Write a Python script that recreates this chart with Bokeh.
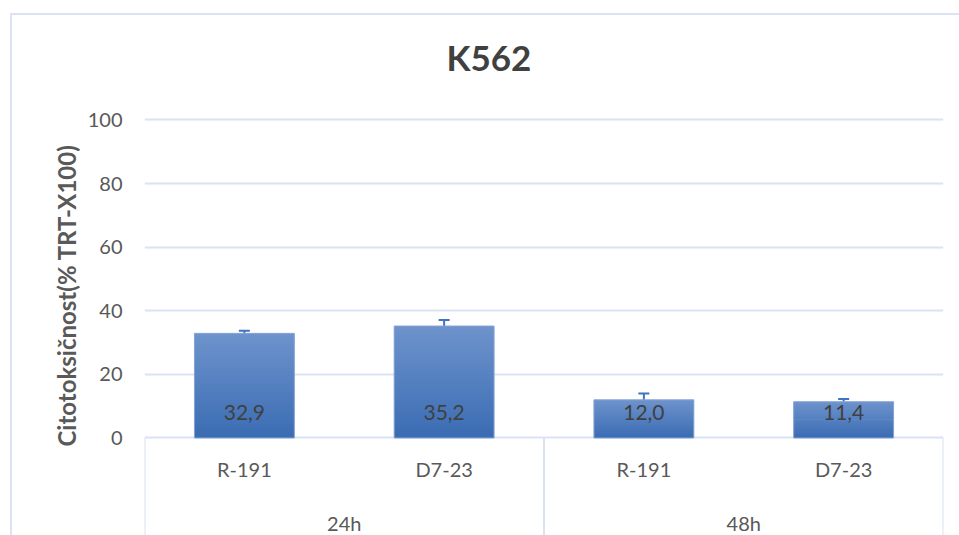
from bokeh.plotting import figure
from bokeh.models import (FactorRange, Range1d, FixedTicker, CategoricalAxis,
                          ColumnDataSource, Whisker, TeeHead)
from bokeh.core.properties import value
from bokeh.embed import file_html
from bokeh.resources import INLINE

# ---------------- data ----------------
title_text = "K562"
y_label = "Citotoksičnost(% TRT-X100)"
groups = ["24h", "48h"]
samples = ["R-191", "D7-23"]
values = [32.9, 35.2, 12.0, 11.4]
errors = [0.8, 1.9, 2.0, 0.9]
y_ticks = [0, 20, 40, 60, 80, 100]

# ---------------- style ----------------
FONT = "Lato"
GRID = "#dae3f3"
TEXT = "#595959"
DARK = "#404040"
ERR = "#3f73c4"
TOP_COL = (0x6e, 0x93, 0xcc)
BOT_COL = (0x3a, 0x6c, 0xb3)

factors = [(g, s) for g in groups for s in samples]

x_range = FactorRange(factors=factors, range_padding=0, factor_padding=0,
                      group_padding=0, subgroup_padding=0)
p = figure(x_range=x_range, y_range=Range1d(-30.66, 120.28),
           width=947, height=520, output_backend="svg", toolbar_location=None,
           min_border_left=132, min_border_right=16, min_border_top=40,
           min_border_bottom=0)
p.styles = {"margin-left": "12px", "margin-top": "15px",
            "outline": f"2px solid {GRID}"}
p.outline_line_color = None
p.background_fill_color = "white"
p.border_fill_color = "white"

# title
p.title.text = title_text
p.title.text_font = FONT
p.title.text_font_size = "35px"
p.title.text_font_style = "bold"
p.title.text_color = DARK
p.title.align = "left"
p.title.offset = 302
p.title.standoff = -45

# gradient bars (overlapping slices computed from the values)
N = 30
xs, bottoms, tops, cols = [], [], [], []
for f, v in zip(factors, values):
    for k in range(N):
        t = (k + 0.5) / N
        c = tuple(int(round(BOT_COL[j] + (TOP_COL[j] - BOT_COL[j]) * t)) for j in range(3))
        xs.append(f)
        bottoms.append(v * k / N)
        tops.append(min(v, v * (k + 1.6) / N))
        cols.append("#%02x%02x%02x" % c)
p.vbar(x=xs, bottom=bottoms, top=tops, width=0.5, fill_color=cols, line_color=None)
p.vbar(x=factors, top=values, width=0.5, fill_color=None, line_color="#86a3d6",
       line_width=1)

# error bars (upper part)
err_src = ColumnDataSource(dict(x=factors, lower=values,
                                upper=[v + e for v, e in zip(values, errors)]))
p.add_layout(Whisker(source=err_src, base="x", lower="lower", upper="upper",
                     dimension="height", line_color=ERR, line_width=2,
                     upper_head=TeeHead(size=11, line_color=ERR, line_width=2),
                     lower_head=None))

# data labels
labels = [f"{v:.1f}".replace(".", ",") for v in values]
p.text(x=factors, y=[0] * len(values), text=labels, y_offset=-25,
       text_align="center", text_baseline="middle", text_font=value(FONT),
       text_font_size="21px", text_color=DARK)

# category separators below the axis
sep_x = [(groups[0], samples[0], -0.5), (groups[1], samples[0], -0.5),
         (groups[-1], samples[-1], 0.5)]
p.segment(x0=sep_x, y0=[0] * 3, x1=sep_x, y1=[p.y_range.start - 5] * 3,
          line_color=GRID, line_width=2)

# grid
p.xgrid.visible = False
p.ygrid.ticker = FixedTicker(ticks=y_ticks)
p.ygrid.grid_line_color = GRID
p.ygrid.grid_line_width = 2

# y axis
yax = p.yaxis[0]
yax.ticker = FixedTicker(ticks=y_ticks)
yax.axis_line_color = None
yax.major_tick_line_color = None
yax.minor_tick_line_color = None
yax.major_label_standoff = 16
yax.major_label_text_font = FONT
yax.major_label_text_font_size = "20px"
yax.major_label_text_color = TEXT
yax.axis_label = y_label
yax.axis_label_text_font = FONT
yax.axis_label_text_font_size = "24px"
yax.axis_label_text_font_style = "bold"
yax.axis_label_text_color = TEXT
yax.axis_label_standoff = 4

# x axis (sample labels)
xax = p.xaxis[0]
xax.fixed_location = 0
xax.axis_line_color = None
xax.major_tick_line_color = None
xax.minor_tick_line_color = None
xax.major_label_standoff = 13
xax.major_label_text_font = FONT
xax.major_label_text_font_size = "20px"
xax.major_label_text_color = TEXT
xax.group_text_color = None
xax.separator_line_color = None

# group labels axis
p.extra_x_ranges = {"grp": FactorRange(factors=groups, range_padding=0, factor_padding=0)}
gax = CategoricalAxis(x_range_name="grp", fixed_location=0, axis_line_color=None,
                      major_tick_line_color=None, minor_tick_line_color=None,
                      major_label_standoff=67, major_label_text_font=FONT,
                      major_label_text_font_size="20px", major_label_text_color=TEXT)
p.add_layout(gax, "below")

open("out.html", "w").write(file_html(p, INLINE))
